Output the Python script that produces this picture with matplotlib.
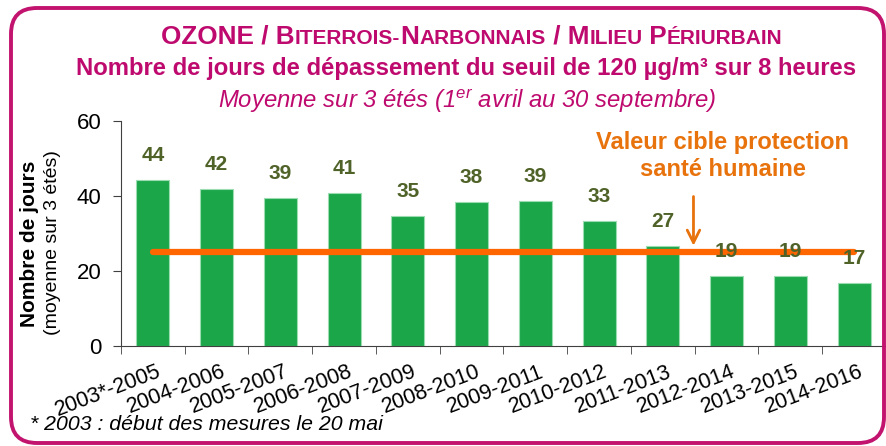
import matplotlib
matplotlib.use("Agg")
import matplotlib.pyplot as plt
import matplotlib.transforms as mtransforms
from matplotlib import font_manager
from matplotlib.offsetbox import TextArea, HPacker, AnnotationBbox
from matplotlib.patches import FancyBboxPatch
import numpy as np

# data
periods = ["2003*-2005", "2004-2006", "2005-2007", "2006-2008", "2007-2009", "2008-2010",
           "2009-2011", "2010-2012", "2011-2013", "2012-2014", "2013-2015", "2014-2016"]
days = [44.3, 41.8, 39.4, 40.8, 34.8, 38.4, 38.8, 33.4, 26.7, 18.7, 18.7, 16.8]
day_labels = ["44", "42", "39", "41", "35", "38", "39", "33", "27", "19", "19", "17"]
target = 25

names = {f.name for f in font_manager.fontManager.ttflist}
narrow = "Liberation Sans Narrow" if "Liberation Sans Narrow" in names else "Liberation Sans"
plt.rcParams['font.family'] = ['Liberation Sans', 'DejaVu Sans']
plt.rcParams['mathtext.fontset'] = 'custom'
plt.rcParams['mathtext.it'] = narrow + ':italic'
plt.rcParams['mathtext.rm'] = narrow

magenta = "#BE0A6E"
green = "#1CA64A"
olive = "#4F6228"
orange = "#FF6600"
orange_txt = "#E8720C"

W, H = 887, 446
fig = plt.figure(figsize=(W / 100, H / 100), dpi=100)
ax = fig.add_axes([121 / W, 1 - 346 / H, (886 - 121) / W, (346 - 121) / H])

x = np.arange(len(periods))
ax.bar(x, days, width=0.52, color=green, edgecolor="#9BDDB0", linewidth=0.8, zorder=2)
for xi, v, lab in zip(x, days, day_labels):
    ax.annotate(lab, (xi, v), xytext=(0, 17.5), textcoords="offset points",
                ha="center", va="center", fontsize=15, fontweight="bold", color=olive, zorder=4)

ax.plot([0, 11], [target, target], color=orange, lw=4.5, solid_capstyle="round", zorder=3)

ax.text(8.94, 50.6, "Valeur cible protection\nsanté humaine", ha="center", va="center",
        fontsize=17, fontweight="bold", color=orange_txt, linespacing=1.2)
ax.annotate("", xy=(8.48, 26.0), xytext=(8.48, 40.6),
            arrowprops=dict(arrowstyle="->,head_length=0.9,head_width=0.45", color=orange_txt, lw=2))

ax.set_xlim(-0.5, 11.5)
ax.set_ylim(0, 60)
ax.set_yticks([0, 20, 40, 60])
ax.tick_params(axis="y", labelsize=16, length=6, pad=8, color="#404040")
ax.set_xticks(x)
ax.set_xticklabels(periods, rotation=21, ha="right", va="top", rotation_mode="anchor", fontsize=15.5)
ax.tick_params(axis="x", which="major", length=0, pad=11)
ax.set_xticks(np.arange(-0.5, 12, 1), minor=True)
ax.tick_params(axis="x", which="minor", length=6, color="#404040")
for lab in ax.get_xticklabels():
    lab.set_transform(lab.get_transform() + mtransforms.ScaledTranslation(4 / 100, 0, fig.dpi_scale_trans))
for s in ["top", "right"]:
    ax.spines[s].set_visible(False)
for s in ["left", "bottom"]:
    ax.spines[s].set_color("#404040")

fig.text(30 / W, 1 - 244 / H, "Nombre de jours", rotation=90, ha="center", va="center",
         fontsize=15, fontweight="bold")
fig.text(53 / W, 1 - 243 / H, "(moyenne sur 3 étés)", rotation=90, ha="center", va="center",
         fontsize=14)

# title in small caps
big, small = 18.8, 15
pieces = [("OZONE / B", big), ("ITERROIS-", small), ("N", big), ("ARBONNAIS", small),
          (" / M", big), ("ILIEU", small), (" P", big), ("ÉRIURBAIN", small)]
areas = [TextArea(t, textprops=dict(fontsize=s, fontweight="bold", color=magenta, family=narrow))
         for t, s in pieces]
line1 = HPacker(children=areas, align="baseline", pad=0, sep=0)
fig.add_artist(AnnotationBbox(line1, (472, H - 37), xycoords="figure pixels", frameon=False,
                              box_alignment=(0.5, 0.5)))

fig.text(466 / W, 1 - 68 / H, "Nombre de jours de dépassement du seuil de 120 µg/m³ sur 8 heures",
         ha="center", va="center", fontsize=17.2, fontweight="bold", color=magenta, family=narrow)
fig.text(467 / W, 1 - 101 / H, r"Moyenne sur 3 étés (1$^{\mathit{er}}$ avril au 30 septembre)",
         ha="center", va="center", fontsize=17.2, style="italic", color=magenta, family=narrow)

fig.text(30 / W, 1 - 425 / H, "* 2003 : début des mesures le 20 mai", ha="left", va="center",
         fontsize=15.3, style="italic", family=narrow)

border = FancyBboxPatch((11, 3), 873, 435, boxstyle="round,pad=0,rounding_size=26",
                        transform=mtransforms.IdentityTransform(), facecolor="none",
                        edgecolor="#C2136F", linewidth=2.8)
fig.patches.append(border)

fig.savefig("out.png", dpi=100)
